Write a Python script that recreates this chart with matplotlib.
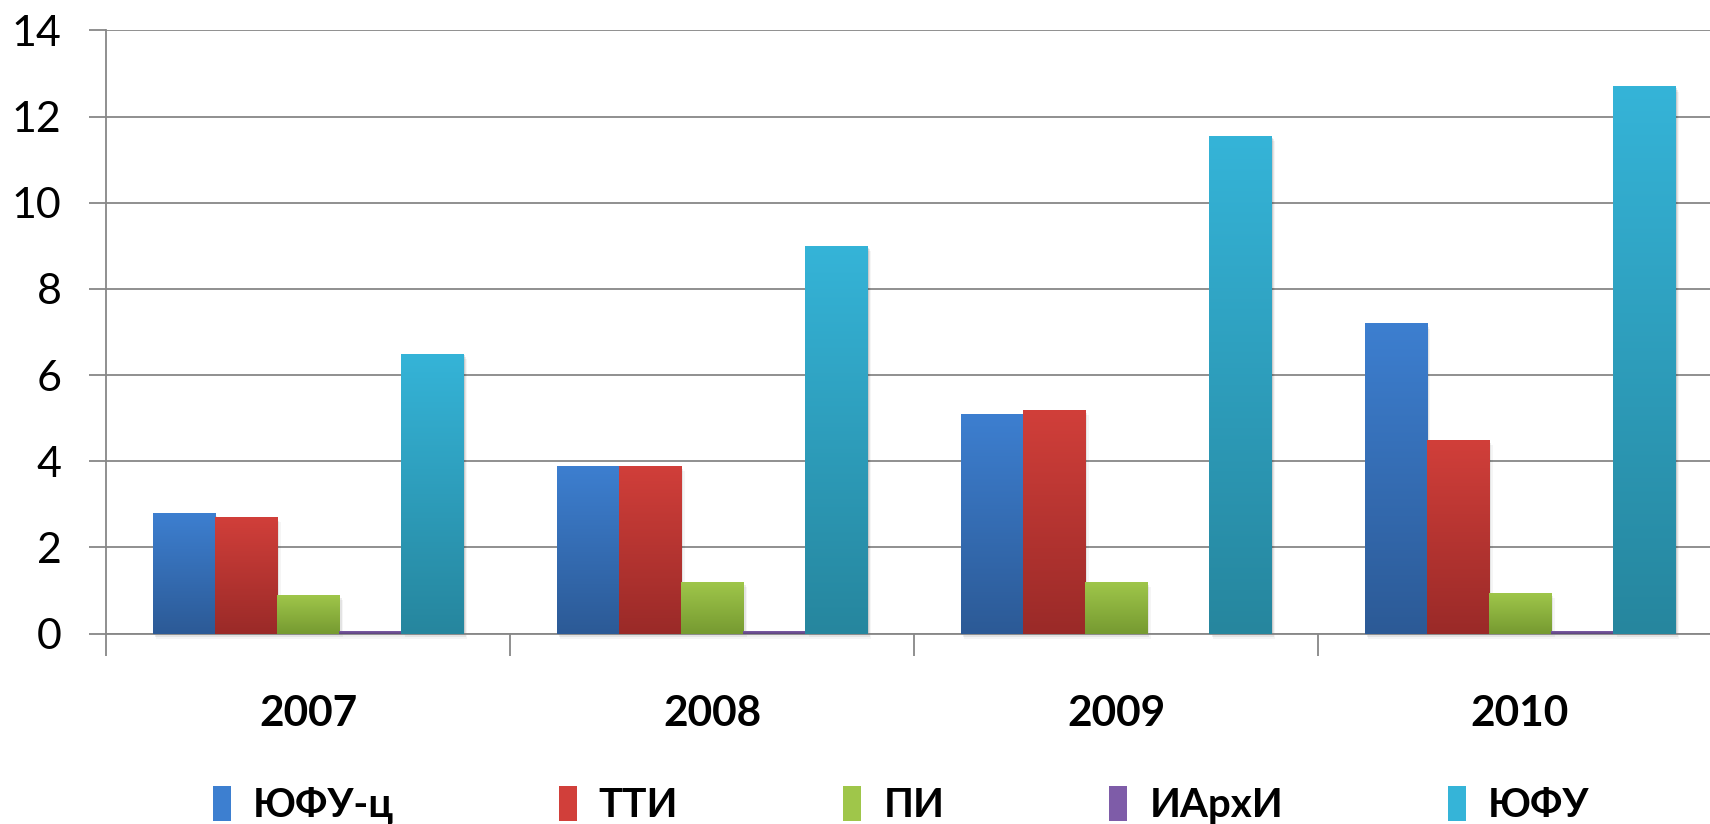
import numpy as np
import matplotlib
matplotlib.use("Agg")
import matplotlib.pyplot as plt
from matplotlib.colors import LinearSegmentedColormap
from matplotlib.patches import Patch

plt.rcParams['font.family'] = ['Lato', 'DejaVu Sans']

# data
years = ['2007', '2008', '2009', '2010']
series = ['ЮФУ-ц', 'ТТИ', 'ПИ', 'ИАрхИ', 'ЮФУ']
yufu_c = [2.8, 3.9, 5.1, 7.2]
tti = [2.7, 3.9, 5.2, 4.5]
pi = [0.9, 1.2, 1.2, 0.95]
iarhi = [0.05, 0.05, 0.0, 0.05]
yufu = [6.5, 9.0, 11.55, 12.7]
values = [yufu_c, tti, pi, iarhi, yufu]

# gradient colours (top, bottom)
grads = [('#3d7fd0', '#2c5a96'),
         ('#d13f3a', '#9a2a28'),
         ('#9fc64a', '#769a31'),
         ('#7e5ca8', '#5b427b'),
         ('#35b4d8', '#26869e')]

fig = plt.figure(figsize=(17.1, 8.24), dpi=100)
ax = fig.add_axes([0.062, 0.2311, 0.945, 0.7319])

x = np.arange(len(years))
w = 1 / 6.5
grid_col = '#878787'

for i, (vals, (ctop, cbot)) in enumerate(zip(values, grads)):
    pos = x + (i - 2) * w
    # soft shadow
    for k, a in enumerate([0.10, 0.07, 0.04]):
        off = 0.003 * (k + 1)
        ax.bar(pos + off, np.array(vals) + 0.0, width=w, bottom=-0.04 * (k + 1),
               color='black', alpha=a, zorder=2, linewidth=0, clip_on=False)
    bars = ax.bar(pos, vals, width=w, color=ctop, zorder=3, linewidth=0)
    cmap = LinearSegmentedColormap.from_list('g%d' % i, [cbot, ctop])
    grad = np.linspace(0, 1, 256).reshape(-1, 1)
    for b in bars:
        h = b.get_height()
        if h <= 0:
            continue
        x0 = b.get_x()
        im = ax.imshow(grad, cmap=cmap, aspect='auto', origin='lower',
                       extent=(x0, x0 + b.get_width(), 0, h), zorder=4)
        im.set_clip_path(b)

ax.set_xlim(-0.5, len(years) - 0.5)
ax.set_ylim(0, 14)
ax.set_yticks(np.arange(0, 15, 2))
ax.yaxis.grid(True, color=grid_col, linewidth=1.3, zorder=0)
ax.set_axisbelow(True)

ax.set_xticks(x)
ax.set_xticklabels(years, fontsize=30.5, fontweight='bold')
ax.set_xticks(np.arange(-0.5, len(years), 1), minor=True)
ax.tick_params(axis='x', which='major', length=0, pad=44)
ax.tick_params(axis='x', which='minor', length=16, width=1.3, color=grid_col)
ax.tick_params(axis='y', length=12, width=1.3, color=grid_col, labelsize=31, pad=20)

for s in ['top', 'right']:
    ax.spines[s].set_visible(False)
for s in ['left', 'bottom']:
    ax.spines[s].set_color(grid_col)
    ax.spines[s].set_linewidth(1.3)

handles = [Patch(facecolor=c[0], edgecolor='none') for c in grads]
fig.legend(handles, series, loc='center', bbox_to_anchor=(0.527, 0.023), ncol=5,
           frameon=False, prop={'size': 29, 'weight': 'bold'},
           handlelength=0.44, handleheight=0.95, handletextpad=0.55,
           columnspacing=4.1)

fig.savefig('out.png', dpi=100)
